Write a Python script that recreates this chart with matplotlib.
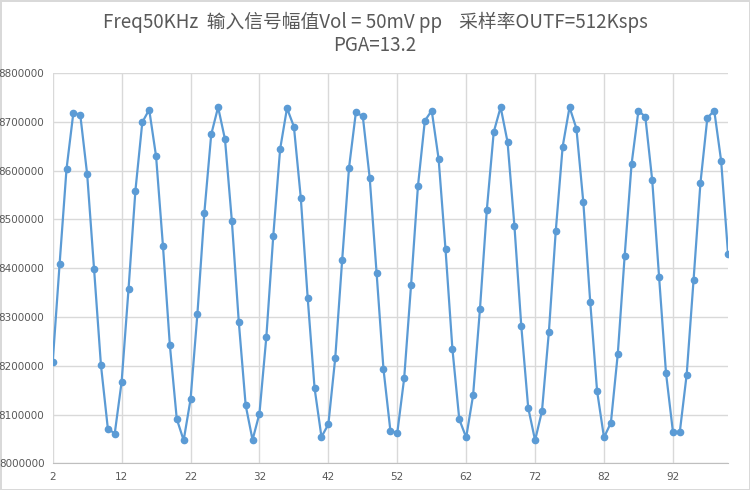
import matplotlib
matplotlib.use('Agg')
import matplotlib.pyplot as plt
import numpy as np

# sample index and ADC readings
x = np.arange(2, 101)
adc = [8208000, 8409000, 8603000, 8719000, 8714000, 8592000, 8398000, 8201000, 8071000, 8061000,
       8167000, 8357000, 8559000, 8699000, 8725000, 8629000, 8445000, 8242000, 8091000, 8047000,
       8131000, 8307000, 8513000, 8674000, 8730000, 8664000, 8496000, 8290000, 8119000, 8048000,
       8102000, 8259000, 8465000, 8644000, 8728000, 8690000, 8544000, 8339000, 8154000, 8054000,
       8080000, 8216000, 8416000, 8606000, 8720000, 8711000, 8585000, 8390000, 8193000, 8067000,
       8062000, 8174000, 8365000, 8568000, 8702000, 8723000, 8624000, 8439000, 8235000, 8090000,
       8053000, 8139000, 8316000, 8520000, 8679000, 8730000, 8659000, 8487000, 8281000, 8114000,
       8047000, 8107000, 8269000, 8476000, 8649000, 8730000, 8686000, 8535000, 8331000, 8148000,
       8053000, 8083000, 8224000, 8425000, 8613000, 8723000, 8710000, 8580000, 8381000, 8185000,
       8065000, 8064000, 8182000, 8376000, 8575000, 8708000, 8723000, 8620000, 8430000]

xticks = list(range(2, 93, 10))
yticks = list(range(8000000, 8800001, 100000))

title1 = 'Freq50KHz  输入信号幅值Vol = 50mV pp    采样率OUTF=512Ksps'
title2 = 'PGA=13.2'

fig = plt.figure(figsize=(7.5, 4.9), dpi=100)
fig.patch.set_edgecolor('#d9d9d9')
fig.patch.set_linewidth(2)

ax = fig.add_axes([0.0703, 0.0545, 0.9004, 0.7965])
ax.plot(x, adc, color='#5b9bd5', linewidth=1.6, marker='o', markersize=4.5)

ax.set_xlim(2, 100)
ax.set_ylim(8000000, 8800000)
ax.set_xticks(xticks)
ax.set_yticks(yticks)
ax.set_yticklabels([str(v) for v in yticks])
ax.grid(True, color='#d9d9d9', linewidth=1)
ax.set_axisbelow(True)
for s in ['top', 'right', 'left']:
    ax.spines[s].set_visible(False)
ax.spines['bottom'].set_color('#bfbfbf')
ax.tick_params(length=0, labelsize=7.5, colors='#595959', pad=6)
for lab in ax.get_xticklabels() + ax.get_yticklabels():
    lab.set_family(['Liberation Sans Narrow', 'DejaVu Sans'])

fig.text(0.5, 0.955, title1, ha='center', va='center', fontsize=13.5, color='#595959',
         family=['Noto Sans CJK SC', 'DejaVu Sans'])
fig.text(0.5, 0.908, title2, ha='center', va='center', fontsize=13.5, color='#595959',
         family=['Noto Sans CJK SC', 'DejaVu Sans'])

fig.savefig('out.png', dpi=100)
